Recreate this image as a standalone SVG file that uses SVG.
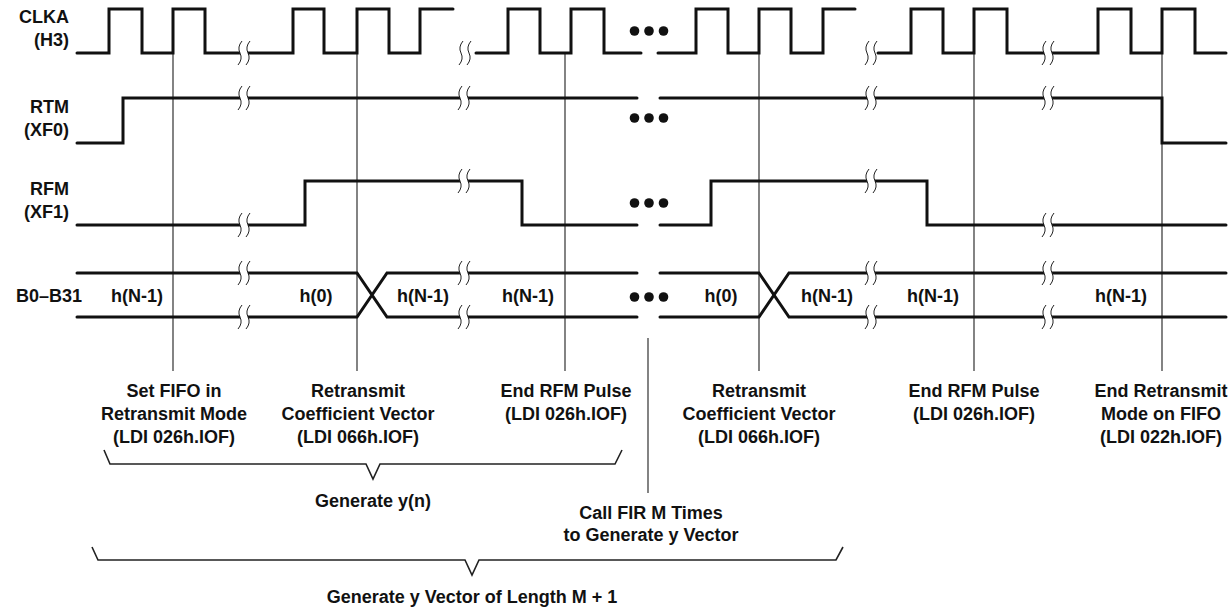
<svg xmlns="http://www.w3.org/2000/svg" width="1230" height="611" viewBox="0 0 1230 611">
<style>
.sig{fill:none;stroke:#111;stroke-width:3;stroke-linejoin:miter;stroke-linecap:round}
.thin{fill:none;stroke:#333;stroke-width:1.2}
.brc{fill:none;stroke:#222;stroke-width:1.6}
.t{font-family:"Liberation Sans",Arial,Helvetica,sans-serif;font-weight:bold;font-size:18px;fill:#111}
.r{text-anchor:end}
.m{text-anchor:middle}
.dots{fill:#111}
</style>
<defs>
<g id="brk"><rect x="-4" y="-3.5" width="8" height="7" fill="#fff"/><path d="M-2,-12 Q-7,-6 -4,0 Q-1,6 -6,12 M6,-12 Q1,-6 4,0 Q7,6 2,12" fill="none" stroke="#222" stroke-width="1"/></g>
<g id="dots"><circle cx="-14.5" cy="0" r="4.8"/><circle cx="0" cy="0" r="4.8"/><circle cx="14.5" cy="0" r="4.8"/></g>
</defs>
<rect width="1230" height="611" fill="#fff"/>

<g id="connectors">
<path class="thin" d="M173,53 V371 M357,53 V371 M565,53 V371 M759,53 V371 M974,53 V371 M1162,53 V371 M648,338 V493"/>
</g>

<g id="clka">
<text class="t r" x="69" y="23">CLKA</text>
<text class="t r" x="69" y="46">(H3)</text>
<path class="sig" d="M77,53 H109 V9 H142 V53 H173 V9 H205 V53 H293 V9 H324 V53 H357 V9 H389 V53 H420 V9 H453 M476,53 H508 V9 H540 V53 H571 V9 H604 V53 H641 M658,53 H696 V9 H728 V53 H759 V9 H791 V53 H823 V9 H855 M878,53 H911 V9 H943 V53 H974 V9 H1007 V53 H1098 V9 H1131 V53 H1162 V9 H1195 V53 H1226"/>
<use href="#brk" x="244" y="53"/><use href="#brk" x="465" y="53"/><use href="#brk" x="871" y="53"/><use href="#brk" x="1048" y="53"/>
<use href="#dots" class="dots" x="649" y="31"/>
</g>

<g id="rtm">
<text class="t r" x="69" y="113">RTM</text>
<text class="t r" x="69" y="136">(XF0)</text>
<path class="sig" d="M77,143 H123 V98 H637 M660,98 H1162 V143 H1226"/>
<use href="#brk" x="244" y="98"/><use href="#brk" x="464" y="98"/><use href="#brk" x="871" y="98"/><use href="#brk" x="1048" y="98"/>
<use href="#dots" class="dots" x="649" y="118"/>
</g>

<g id="rfm">
<text class="t r" x="69" y="195">RFM</text>
<text class="t r" x="69" y="218">(XF1)</text>
<path class="sig" d="M77,225 H305 V181 H522 V225 H637 M660,225 H711 V181 H927 V225 H1226"/>
<use href="#brk" x="244" y="225"/><use href="#brk" x="464" y="181"/><use href="#brk" x="871" y="181"/><use href="#brk" x="1048" y="225"/>
<use href="#dots" class="dots" x="649" y="203"/>
</g>

<g id="bus">
<text class="t r" x="82" y="302">B0–B31</text>
<path class="sig" d="M77,273 H357 L387,317 H637 M77,317 H357 L387,273 H637 M660,273 H759 L789,317 H1226 M660,317 H759 L789,273 H1226"/>
<use href="#brk" x="244" y="273"/><use href="#brk" x="244" y="317"/>
<use href="#brk" x="464" y="273"/><use href="#brk" x="464" y="317"/>
<use href="#brk" x="871" y="273"/><use href="#brk" x="871" y="317"/>
<use href="#brk" x="1048" y="273"/><use href="#brk" x="1048" y="317"/>
<use href="#dots" class="dots" x="649" y="297"/>
<text class="t m" x="137" y="302">h(N-1)</text>
<text class="t m" x="316" y="302">h(0)</text>
<text class="t m" x="423" y="302">h(N-1)</text>
<text class="t m" x="528" y="302">h(N-1)</text>
<text class="t m" x="721" y="302">h(0)</text>
<text class="t m" x="827" y="302">h(N-1)</text>
<text class="t m" x="933" y="302">h(N-1)</text>
<text class="t m" x="1121" y="302">h(N-1)</text>
</g>

<g id="note1">
<text class="t m" x="174" y="397">Set FIFO in</text>
<text class="t m" x="174" y="420">Retransmit Mode</text>
<text class="t m" x="174" y="443">(LDI 026h.IOF)</text>
</g>
<g id="note2">
<text class="t m" x="358" y="397">Retransmit</text>
<text class="t m" x="358" y="420">Coefficient Vector</text>
<text class="t m" x="358" y="443">(LDI 066h.IOF)</text>
</g>
<g id="note3">
<text class="t m" x="566" y="397">End RFM Pulse</text>
<text class="t m" x="566" y="420">(LDI 026h.IOF)</text>
</g>
<g id="note4">
<text class="t m" x="759" y="397">Retransmit</text>
<text class="t m" x="759" y="420">Coefficient Vector</text>
<text class="t m" x="759" y="443">(LDI 066h.IOF)</text>
</g>
<g id="note5">
<text class="t m" x="974" y="397">End RFM Pulse</text>
<text class="t m" x="974" y="420">(LDI 026h.IOF)</text>
</g>
<g id="note6">
<text class="t m" x="1161" y="397">End Retransmit</text>
<text class="t m" x="1161" y="420">Mode on FIFO</text>
<text class="t m" x="1161" y="443">(LDI 022h.IOF)</text>
</g>

<g id="brace1">
<path class="brc" d="M104,450 L110,464 H366 L373,479 L380,464 H615 L622,450"/>
<text class="t m" x="373" y="507">Generate y(n)</text>
</g>
<g id="callfir">
<text class="t m" x="651" y="519">Call FIR M Times</text>
<text class="t m" x="651" y="541">to Generate y Vector</text>
</g>
<g id="brace2">
<path class="brc" d="M92,547 L98,560 H465 L472,575 L479,560 H836 L843,547"/>
<text class="t m" x="472" y="603">Generate y Vector of Length M + 1</text>
</g>
</svg>
